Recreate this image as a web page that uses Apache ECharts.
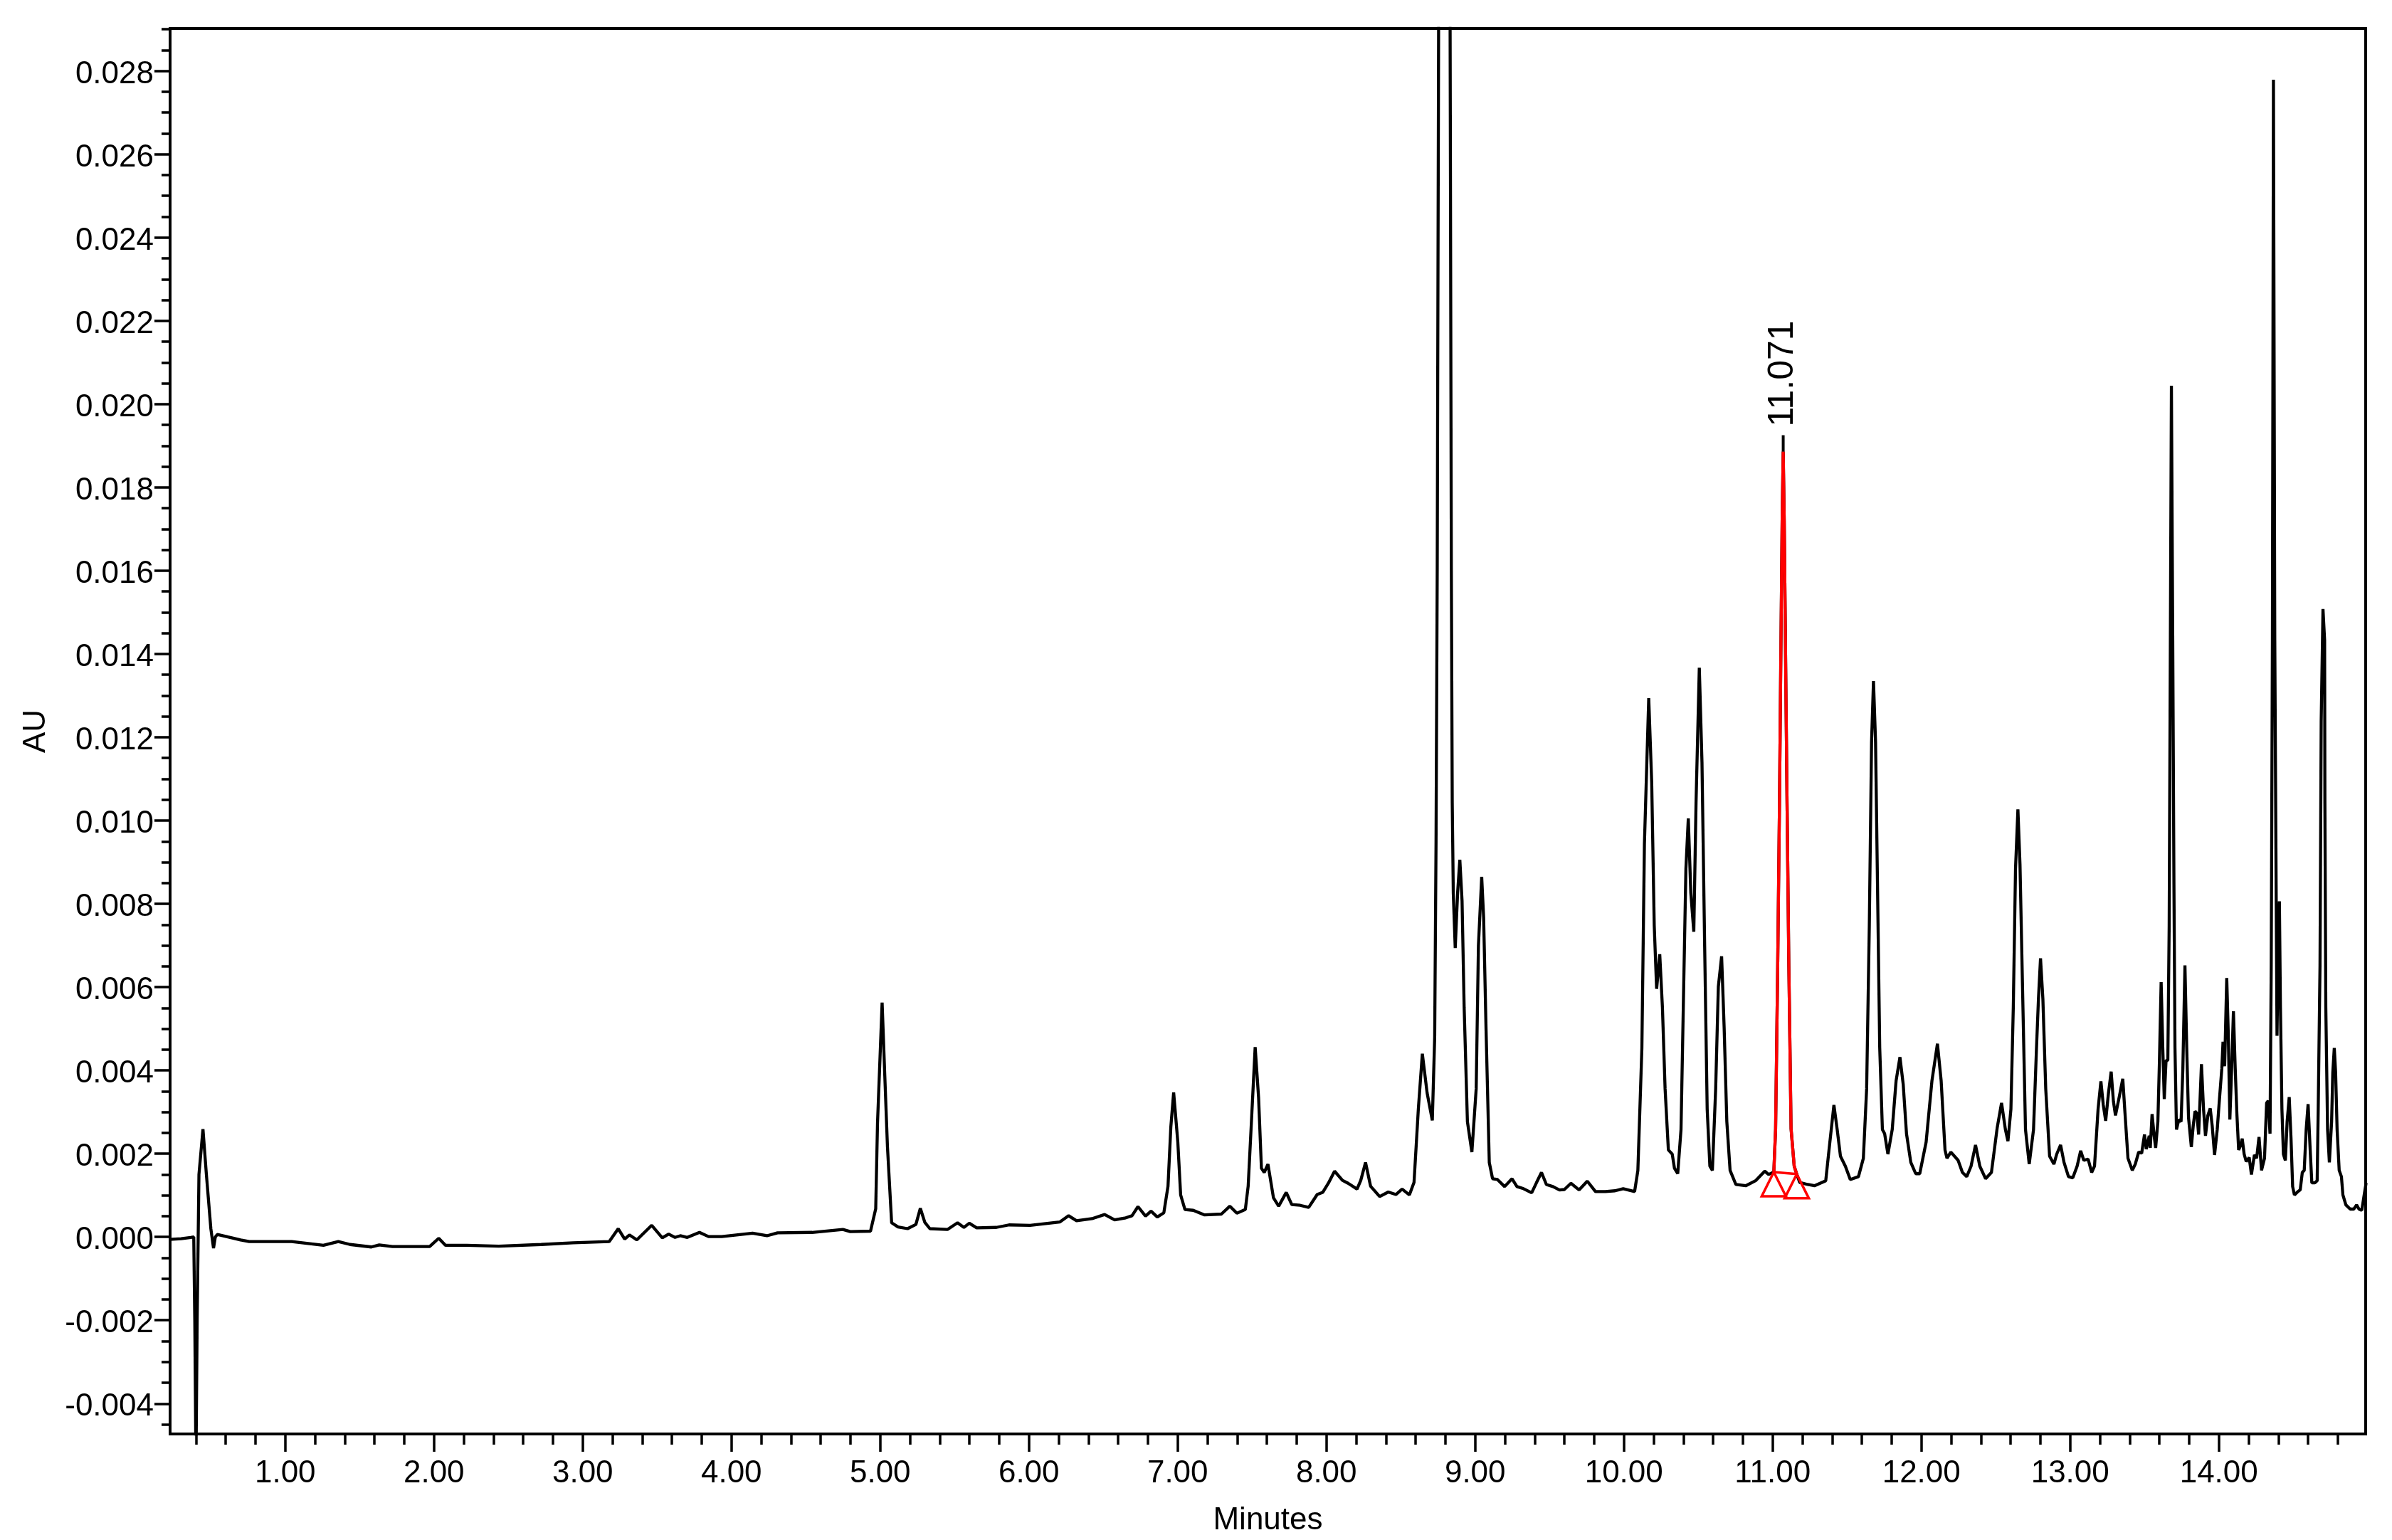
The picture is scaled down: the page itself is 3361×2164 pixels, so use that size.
<!DOCTYPE html>
<html>
<head>
<meta charset="utf-8">
<script src="https://cdn.jsdelivr.net/npm/echarts@6/dist/echarts.min.js"></script>
<style>
html,body{margin:0;padding:0;background:#fff;}
#chart{width:3361px;height:2164px;}
</style>
</head>
<body>
<div id="chart"></div>
<script>
// ---- Data ----
var minutes = [
0.222,0.300,0.365,0.385,0.392,0.400,0.408,0.420,0.447,0.470,0.500,0.518,0.530,0.543,0.615,0.700,0.758,1.043,1.257,1.357,
1.436,1.579,1.632,1.721,1.971,2.032,2.078,2.221,2.436,2.721,2.935,3.178,3.239,3.282,3.314,3.364,3.464,3.535,3.578,3.621,
3.656,3.703,3.785,3.846,3.935,4.142,4.239,4.310,4.542,4.749,4.799,4.935,4.970,4.982,5.013,5.031,5.049,5.077,5.120,5.184,
5.240,5.270,5.300,5.334,5.452,5.520,5.563,5.599,5.649,5.781,5.866,6.008,6.207,6.267,6.320,6.424,6.509,6.576,6.651,6.693,
6.733,6.784,6.821,6.863,6.907,6.935,6.954,6.973,7.001,7.020,7.049,7.105,7.181,7.294,7.351,7.398,7.455,7.474,7.499,7.521,
7.544,7.563,7.582,7.607,7.644,7.679,7.730,7.767,7.824,7.881,7.938,7.975,8.013,8.055,8.108,8.146,8.206,8.231,8.263,8.297,
8.358,8.416,8.467,8.509,8.558,8.589,8.618,8.645,8.677,8.712,8.728,8.737,8.745,8.755,8.793,8.831,8.840,8.846,8.853,8.866,
8.882,8.897,8.912,8.926,8.948,8.978,9.007,9.022,9.044,9.057,9.073,9.095,9.117,9.150,9.198,9.248,9.281,9.325,9.380,9.413,
9.446,9.479,9.523,9.567,9.600,9.644,9.699,9.754,9.809,9.875,9.941,9.995,10.072,10.094,10.121,10.138,10.167,10.187,10.204,10.220,
10.241,10.259,10.277,10.299,10.325,10.340,10.362,10.384,10.402,10.417,10.433,10.450,10.470,10.485,10.507,10.525,10.543,10.560,10.578,10.595,
10.617,10.635,10.657,10.674,10.692,10.714,10.753,10.819,10.885,10.947,10.973,11.008,11.020,11.034,11.046,11.056,11.064,11.071,11.078,11.086,
11.097,11.109,11.124,11.145,11.162,11.182,11.237,11.281,11.357,11.379,11.412,11.434,11.456,11.489,11.522,11.577,11.610,11.632,11.650,11.665,
11.678,11.692,11.705,11.720,11.738,11.753,11.775,11.804,11.830,11.856,11.878,11.900,11.929,11.962,11.989,12.032,12.071,12.108,12.133,12.159,
12.172,12.198,12.247,12.276,12.305,12.334,12.364,12.393,12.432,12.471,12.510,12.539,12.565,12.582,12.602,12.618,12.633,12.649,12.663,12.680,
12.700,12.725,12.754,12.774,12.787,12.801,12.817,12.836,12.862,12.891,12.910,12.936,12.959,12.989,13.018,13.047,13.071,13.092,13.121,13.145,
13.164,13.188,13.207,13.223,13.239,13.258,13.276,13.291,13.305,13.330,13.354,13.369,13.389,13.418,13.438,13.461,13.481,13.500,13.512,13.532,
13.539,13.551,13.565,13.575,13.590,13.600,13.612,13.623,13.633,13.645,13.657,13.666,13.674,13.681,13.690,13.698,13.705,13.715,13.731,13.746,
13.758,13.772,13.784,13.796,13.815,13.828,13.840,13.852,13.864,13.871,13.883,13.897,13.910,13.926,13.942,13.955,13.971,13.989,14.004,14.020,
14.028,14.039,14.053,14.063,14.074,14.086,14.098,14.110,14.121,14.133,14.145,14.157,14.170,14.184,14.204,14.219,14.239,14.254,14.270,14.287,
14.307,14.321,14.332,14.344,14.352,14.360,14.367,14.376,14.385,14.391,14.401,14.407,14.414,14.424,14.434,14.447,14.459,14.473,14.485,14.496,
14.508,14.531,14.547,14.561,14.574,14.587,14.600,14.614,14.625,14.645,14.661,14.668,14.680,14.688,14.700,14.711,14.713,14.719,14.731,14.743,
14.758,14.766,14.776,14.785,14.795,14.809,14.824,14.834,14.854,14.883,14.907,14.926,14.942,14.961,14.977,14.990
];
var au = [
-0.00006,-0.00004,-0.00001,0.00000,-0.00200,-0.00550,-0.00200,0.00150,0.00259,0.00150,0.00020,-0.00027,0.00000,0.00006,0.00000,-0.00007,-0.00011,-0.00011,-0.00020,-0.00011,
-0.00018,-0.00024,-0.00019,-0.00023,-0.00023,-0.00003,-0.00020,-0.00020,-0.00022,-0.00018,-0.00014,-0.00011,0.00020,-0.00005,0.00005,-0.00007,0.00028,-0.00002,0.00007,-0.00001,
0.00003,-0.00001,0.00011,0.00001,0.00001,0.00009,0.00003,0.00010,0.00011,0.00018,0.00013,0.00014,0.00068,0.00273,0.00563,0.00387,0.00216,0.00034,0.00024,0.00020,
0.00030,0.00069,0.00035,0.00020,0.00018,0.00034,0.00023,0.00033,0.00022,0.00023,0.00029,0.00028,0.00036,0.00051,0.00039,0.00044,0.00054,0.00041,0.00046,0.00051,
0.00073,0.00050,0.00062,0.00048,0.00058,0.00122,0.00264,0.00347,0.00228,0.00101,0.00066,0.00064,0.00053,0.00055,0.00074,0.00057,0.00066,0.00122,0.00299,0.00456,
0.00335,0.00165,0.00155,0.00175,0.00094,0.00074,0.00107,0.00078,0.00076,0.00071,0.00102,0.00107,0.00129,0.00158,0.00136,0.00129,0.00115,0.00136,0.00179,0.00122,
0.00097,0.00108,0.00102,0.00115,0.00101,0.00131,0.00307,0.00440,0.00346,0.00280,0.00480,0.00944,0.01600,0.03000,0.08500,0.03000,0.01600,0.01042,0.00826,0.00694,
0.00826,0.00906,0.00807,0.00552,0.00277,0.00204,0.00356,0.00699,0.00865,0.00767,0.00503,0.00179,0.00140,0.00138,0.00121,0.00140,0.00121,0.00116,0.00106,0.00131,
0.00155,0.00126,0.00121,0.00113,0.00114,0.00129,0.00113,0.00134,0.00109,0.00109,0.00111,0.00116,0.00109,0.00160,0.00454,0.00944,0.01294,0.01091,0.00748,0.00596,
0.00679,0.00552,0.00356,0.00209,0.00199,0.00165,0.00152,0.00258,0.00601,0.00885,0.01005,0.00826,0.00733,0.01042,0.01367,0.01140,0.00699,0.00307,0.00170,0.00160,
0.00356,0.00601,0.00674,0.00503,0.00277,0.00160,0.00126,0.00123,0.00135,0.00158,0.00150,0.00156,0.00260,0.00650,0.01040,0.01430,0.01720,0.01886,0.01720,0.01430,
0.01040,0.00650,0.00260,0.00170,0.00151,0.00131,0.00126,0.00123,0.00135,0.00209,0.00317,0.00258,0.00194,0.00170,0.00138,0.00145,0.00189,0.00356,0.00748,0.01188,
0.01335,0.01188,0.00846,0.00454,0.00258,0.00248,0.00199,0.00258,0.00375,0.00432,0.00366,0.00248,0.00179,0.00152,0.00152,0.00228,0.00375,0.00464,0.00375,0.00209,
0.00189,0.00204,0.00184,0.00155,0.00145,0.00170,0.00221,0.00170,0.00140,0.00155,0.00263,0.00322,0.00258,0.00230,0.00307,0.00552,0.00885,0.01027,0.00895,0.00601,
0.00258,0.00175,0.00258,0.00454,0.00571,0.00669,0.00571,0.00356,0.00194,0.00175,0.00199,0.00221,0.00179,0.00145,0.00142,0.00170,0.00207,0.00184,0.00187,0.00155,
0.00170,0.00307,0.00374,0.00317,0.00279,0.00346,0.00397,0.00326,0.00292,0.00336,0.00380,0.00297,0.00189,0.00160,0.00175,0.00204,0.00201,0.00246,0.00211,0.00243,
0.00214,0.00295,0.00243,0.00214,0.00277,0.00415,0.00612,0.00454,0.00331,0.00424,0.00424,0.00748,0.01433,0.02044,0.01433,0.00846,0.00454,0.00258,0.00282,0.00277,
0.00405,0.00652,0.00454,0.00287,0.00216,0.00268,0.00302,0.00297,0.00246,0.00307,0.00415,0.00307,0.00243,0.00292,0.00309,0.00268,0.00197,0.00258,0.00331,0.00405,
0.00469,0.00410,0.00622,0.00493,0.00282,0.00405,0.00542,0.00405,0.00297,0.00209,0.00219,0.00236,0.00199,0.00181,0.00191,0.00150,0.00197,0.00189,0.00240,0.00160,
0.00189,0.00322,0.00327,0.00248,0.00650,0.01433,0.02779,0.01433,0.00846,0.00483,0.00748,0.00806,0.00552,0.00307,0.00199,0.00184,0.00277,0.00336,0.00238,0.00121,
0.00101,0.00109,0.00113,0.00155,0.00160,0.00258,0.00319,0.00209,0.00130,0.00130,0.00135,0.00307,0.00650,0.01238,0.01508,0.01433,0.01042,0.00552,0.00258,0.00179,
0.00277,0.00395,0.00454,0.00395,0.00258,0.00160,0.00145,0.00101,0.00077,0.00067,0.00067,0.00077,0.00067,0.00064,0.00101,0.00130
];
// integrated peak (drawn red)
var peakLabel = '11.071';
var peakStart = 11.008;
var peakEnd = 11.162;
// axis ticks
var xMajorTicks = [1, 2, 3, 4, 5, 6, 7, 8, 9, 10, 11, 12, 13, 14];
var yMajorTicks = [-0.004, -0.002, 0.000, 0.002, 0.004, 0.006, 0.008, 0.010, 0.012, 0.014, 0.016, 0.018, 0.020, 0.022, 0.024, 0.026, 0.028];
var xRange = [0.226, 14.987];
var yRange = [-0.00473, 0.02902];

// ---- build ----
var xMinorTicks = [];
for (var i = 2; i <= 74; i++) { if (i % 5 !== 0) xMinorTicks.push(+(i * 0.2).toFixed(1)); }
var yMinorTicks = [];
for (var j = -9; j <= 58; j++) { if (j % 4 !== 0) yMinorTicks.push(+(j * 0.0005).toFixed(4)); }

var trace = minutes.map(function (t, k) { return [t, au[k]]; });
var peak = trace.filter(function (p) { return p[0] >= peakStart - 1e-9 && p[0] <= peakEnd + 1e-9; });
var apex = peak.reduce(function (a, b) { return b[1] > a[1] ? b : a; });
var startPt = peak[0], endPt = peak[peak.length - 1];

var FONT = '"Liberation Sans", Arial, sans-serif';
var BLACK = '#000000';
var RED = '#ff0000';

var chart = echarts.init(document.getElementById('chart'), null, { renderer: 'canvas' });
chart.setOption({
  animation: false,
  backgroundColor: '#ffffff',
  grid: { left: 239, right: 37, top: 40, bottom: 146, show: true, borderColor: BLACK, borderWidth: 4, backgroundColor: 'transparent' },
  xAxis: [{
    type: 'value', min: xRange[0], max: xRange[1], position: 'bottom',
    name: 'Minutes', nameLocation: 'middle', nameGap: 100,
    nameTextStyle: { fontSize: 44, fontFamily: FONT, color: BLACK },
    axisLine: { show: true, onZero: false, lineStyle: { color: BLACK, width: 4 } },
    axisTick: { show: true, customValues: xMajorTicks, length: 25, lineStyle: { color: BLACK, width: 3.5 } },
    axisLabel: { show: true, customValues: xMajorTicks, margin: 34, fontSize: 44, fontFamily: FONT, color: BLACK,
      formatter: function (v) { return v.toFixed(2); } },
    splitLine: { show: false }
  }, {
    type: 'value', min: xRange[0], max: xRange[1], position: 'bottom',
    axisLine: { show: false, onZero: false },
    axisTick: { show: true, customValues: xMinorTicks, length: 15, lineStyle: { color: BLACK, width: 3.5 } },
    axisLabel: { show: false },
    splitLine: { show: false }
  }],
  yAxis: [{
    type: 'value', min: yRange[0], max: yRange[1], position: 'left',
    name: 'AU', nameLocation: 'middle', nameGap: 166, nameRotate: 90,
    nameTextStyle: { fontSize: 44, fontFamily: FONT, color: BLACK },
    axisLine: { show: true, onZero: false, lineStyle: { color: BLACK, width: 4 } },
    axisTick: { show: true, customValues: yMajorTicks, length: 22, lineStyle: { color: BLACK, width: 3.5 } },
    axisLabel: { show: true, customValues: yMajorTicks, margin: 23, fontSize: 44, fontFamily: FONT, color: BLACK,
      verticalAlign: 'top', lineHeight: 10,
      formatter: function (v) { return v.toFixed(3); } },
    splitLine: { show: false }
  }, {
    type: 'value', min: yRange[0], max: yRange[1], position: 'left',
    axisLine: { show: false, onZero: false },
    axisTick: { show: true, customValues: yMinorTicks, length: 12, lineStyle: { color: BLACK, width: 3.5 } },
    axisLabel: { show: false },
    splitLine: { show: false }
  }],
  series: [{
    type: 'line', name: 'trace', data: trace, xAxisIndex: 0, yAxisIndex: 0,
    showSymbol: false, symbol: 'none', clip: true, z: 2,
    lineStyle: { color: BLACK, width: 4.3 }
  }, {
    type: 'line', name: 'peak', data: peak, xAxisIndex: 0, yAxisIndex: 0,
    showSymbol: false, symbol: 'none', clip: true, z: 3,
    lineStyle: { color: RED, width: 4.3 },
    markLine: {
      silent: true, symbol: ['none', 'none'], label: { show: false },
      lineStyle: { color: RED, width: 3.5, type: 'solid' },
      data: [[{ coord: startPt }, { coord: endPt }]]
    },
    markPoint: {
      silent: true,
      data: [{
        coord: apex, symbol: 'rect', symbolSize: [4, 23], symbolOffset: [0, -11.5],
        itemStyle: { color: BLACK },
        label: { show: true, formatter: peakLabel, position: 'top', distance: 12, rotate: 90,
          align: 'left', verticalAlign: 'middle', fontSize: 50, fontFamily: FONT, color: BLACK }
      }, {
        coord: startPt, symbol: 'triangle', symbolSize: 34, symbolOffset: [0, 17],
        itemStyle: { color: 'rgba(255,255,255,0)', borderColor: RED, borderWidth: 3.5 },
        label: { show: false }
      }, {
        coord: endPt, symbol: 'triangle', symbolSize: 34, symbolOffset: [0, 17],
        itemStyle: { color: 'rgba(255,255,255,0)', borderColor: RED, borderWidth: 3.5 },
        label: { show: false }
      }]
    }
  }]
});
</script>
</body>
</html>
